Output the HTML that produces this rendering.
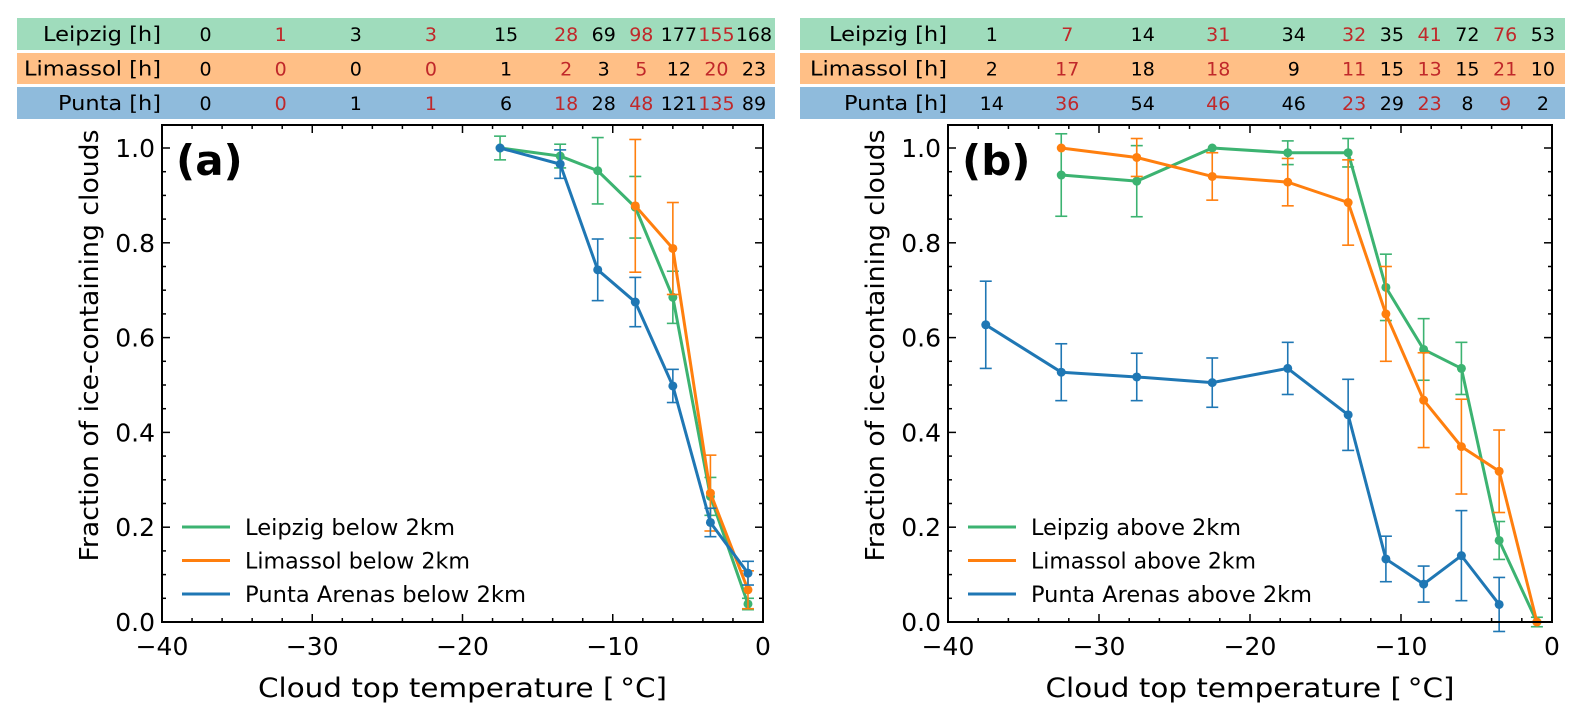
<!DOCTYPE html>
<html><head><meta charset="utf-8">
<style>
html,body{margin:0;padding:0;background:#fff;}
svg{display:block;font-family:"DejaVu Sans","Liberation Sans",sans-serif;}
</style></head>
<body>
<svg id="chart" width="1572" height="722" viewBox="0 0 1572 722" xmlns="http://www.w3.org/2000/svg"></svg>
<script>
// ---- data ----
const tableTemps = [-37.5,-32.5,-27.5,-22.5,-17.5,-13.5,-11,-8.5,-6,-3.5,-1];
const hoursA_Leipzig = [0,1,3,3,15,28,69,98,177,155,168];
const hoursA_Limassol = [0,0,0,0,1,2,3,5,12,20,23];
const hoursA_Punta = [0,0,1,1,6,18,28,48,121,135,89];
const hoursB_Leipzig = [1,7,14,31,34,32,35,41,72,76,53];
const hoursB_Limassol = [2,17,18,18,9,11,15,13,15,21,10];
const hoursB_Punta = [14,36,54,46,46,23,29,23,8,9,2];

const tempsA_Leipzig = [-17.5,-13.5,-11,-8.5,-6,-3.5,-1];
const fracA_Leipzig = [1.0,0.983,0.952,0.875,0.685,0.265,0.038];
const errA_Leipzig = [0.025,0.025,0.07,0.065,0.055,0.04,0.012];
const tempsA_Limassol = [-8.5,-6,-3.5,-1];
const fracA_Limassol = [0.878,0.788,0.272,0.068];
const errA_Limassol = [0.14,0.097,0.08,0.04];
const tempsA_Punta = [-17.5,-13.5,-11,-8.5,-6,-3.5,-1];
const fracA_Punta = [1.0,0.966,0.743,0.675,0.498,0.21,0.103];
const errA_Punta = [0.0,0.03,0.065,0.052,0.035,0.03,0.025];

const tempsB_Leipzig = [-32.5,-27.5,-22.5,-17.5,-13.5,-11,-8.5,-6,-3.5,-1];
const fracB_Leipzig = [0.943,0.93,1.0,0.99,0.99,0.706,0.575,0.535,0.172,0.0];
const errB_Leipzig = [0.087,0.075,0.0,0.025,0.03,0.07,0.065,0.055,0.04,0.01];
const tempsB_Limassol = [-32.5,-27.5,-22.5,-17.5,-13.5,-11,-8.5,-6,-3.5,-1];
const fracB_Limassol = [1.0,0.98,0.94,0.928,0.885,0.65,0.468,0.37,0.318,0.0];
const errB_Limassol = [0.0,0.04,0.05,0.05,0.09,0.1,0.1,0.1,0.087,0.0];
const tempsB_Punta = [-37.5,-32.5,-27.5,-22.5,-17.5,-13.5,-11,-8.5,-6,-3.5];
const fracB_Punta = [0.627,0.527,0.517,0.505,0.535,0.437,0.133,0.08,0.14,0.037];
const errB_Punta = [0.092,0.06,0.05,0.052,0.055,0.075,0.048,0.038,0.095,0.057];

const xTicks = [-40,-30,-20,-10,0];
const yTicks = [0.0,0.2,0.4,0.6,0.8,1.0];

// ---- drawing ----
const NS = "http://www.w3.org/2000/svg";
const svg = document.getElementById('chart');
function mk(tag, attrs, parent){
  const e = document.createElementNS(NS, tag);
  for (const k in attrs) e.setAttribute(k, attrs[k]);
  (parent||svg).appendChild(e);
  return e;
}
const GREEN="#3cb371", ORANGE="#ff7f0e", BLUE="#1f77b4", RED="#c0282a";

function panel(opt){
  const L=opt.left, R=opt.right, T=125, B=622;
  const xs = v => R + (v/40)*(R-L);
  const ys = v => B - v*474;
  const g = mk('g',{});
  
  

  // table
  const rows = [
    {label:'Leipzig [h]', vals:opt.hours[0], bg:'#9fdcbc', y0:18, y1:50, w:118},
    {label:'Limassol [h]', vals:opt.hours[1], bg:'#ffbf86', y0:53, y1:84, w:137},
    {label:'Punta [h]', vals:opt.hours[2], bg:'#8fbbdc', y0:87, y1:119, w:103}
  ];
  rows.forEach((r,ri)=>{
    const rg = mk('g',{},g);
    
    
    mk('rect',{x:opt.tableLeft,y:r.y0,width:opt.tableRight-opt.tableLeft,height:r.y1-r.y0,fill:r.bg},rg);
    const cy=(r.y0+r.y1)/2+7;
    const lt = mk('text',{x:L-1,y:cy,'text-anchor':'end','font-size':20,fill:'#000',textLength:r.w,lengthAdjust:'spacingAndGlyphs'},rg);
    lt.textContent=r.label;
    tableTemps.forEach((t,i)=>{
      const tx = mk('text',{x:xs(t)+6,y:cy,'text-anchor':'middle','font-size':19,fill:(i%2===1)?RED:'#000'},rg);
      tx.textContent=r.vals[i];
    });
  });

  // ticks
  for(let v=-40; v<=0; v+=2){
    const major = v%10===0, len = major?8:4;
    mk('line',{x1:xs(v),x2:xs(v),y1:B,y2:B-len,stroke:'#000','stroke-width':1.5},g);
    mk('line',{x1:xs(v),x2:xs(v),y1:T,y2:T+len,stroke:'#000','stroke-width':1.5},g);
  }
  for(let k=0;k<=21;k++){
    const v=k*0.05, major=k%4===0, len=major?8:4;
    if(ys(v)<T) continue;
    mk('line',{x1:L,x2:L+len,y1:ys(v),y2:ys(v),stroke:'#000','stroke-width':1.5},g);
    mk('line',{x1:R,x2:R-len,y1:ys(v),y2:ys(v),stroke:'#000','stroke-width':1.5},g);
  }
  xTicks.forEach(v=>{
    const t=mk('text',{x:xs(v),y:B+33,'text-anchor':'middle','font-size':25},g);
    
    
    t.textContent = v<0 ? '\u2212'+Math.abs(v) : String(v);
  });
  yTicks.forEach(v=>{
    const t=mk('text',{x:L-7,y:ys(v)+9,'text-anchor':'end','font-size':25},g);
    
    
    t.textContent = v.toFixed(1);
  });
  const xl = mk('text',{x:(L+R)/2,y:697,'text-anchor':'middle','font-size':27,textLength:409,lengthAdjust:'spacingAndGlyphs'},g);
  
  
  xl.textContent='Cloud top temperature [\u2009\u00B0C]';
  const yl = mk('text',{x:0,y:0,'text-anchor':'middle','font-size':26,textLength:432,lengthAdjust:'spacingAndGlyphs',transform:`translate(${L-64},${(T+B)/2-28}) rotate(-90)`},g);
  
  
  yl.textContent='Fraction of ice-containing clouds';
  const pl = mk('text',{x:L+14,y:175,'font-size':42,'font-weight':'bold'},g);
  
  
  pl.textContent=opt.letter;

  // series
  opt.series.forEach(s=>{
    const sg = mk('g',{},g);
    
    
    s.t.forEach((t,i)=>{
      const x=xs(t), y1=ys(s.v[i]-s.e[i]), y2=ys(s.v[i]+s.e[i]);
      if(s.e[i]>0){
        mk('line',{x1:x,x2:x,y1:y1,y2:y2,stroke:s.c,'stroke-width':1.6},sg);
        mk('line',{x1:x-6,x2:x+6,y1:y1,y2:y1,stroke:s.c,'stroke-width':1.6},sg);
        mk('line',{x1:x-6,x2:x+6,y1:y2,y2:y2,stroke:s.c,'stroke-width':1.6},sg);
      }
    });
    mk('polyline',{points:s.t.map((t,i)=>xs(t)+','+ys(s.v[i])).join(' '),fill:'none',stroke:s.c,'stroke-width':3,'stroke-linejoin':'round'},sg);
    s.t.forEach((t,i)=>{
      const c=mk('circle',{cx:xs(t),cy:ys(s.v[i]),r:4.5,fill:s.c},sg);
      
      
    });
  });

  // legend
  opt.series.forEach((s,i)=>{
    const ly = 527 + i*33.5;
    const lg = mk('g',{},g);
    
    
    mk('line',{x1:L+20,x2:L+68,y1:ly,y2:ly,stroke:s.c,'stroke-width':3},lg);
    const t=mk('text',{x:L+83,y:ly+8,'font-size':22,textLength:s.w,lengthAdjust:'spacingAndGlyphs'},lg);
    t.textContent=s.label;
  });

  mk('rect',{x:L,y:T,width:R-L,height:B-T,fill:'none',stroke:'#000','stroke-width':2},g);
}

panel({name:'panel-a-below-2km', letter:'(a)', left:162, right:763, tableLeft:17, tableRight:775,
  hours:[hoursA_Leipzig,hoursA_Limassol,hoursA_Punta],
  series:[
    {name:'series-leipzig-below',label:'Leipzig below 2km',c:GREEN,t:tempsA_Leipzig,v:fracA_Leipzig,e:errA_Leipzig,w:210},
    {name:'series-limassol-below',label:'Limassol below 2km',c:ORANGE,t:tempsA_Limassol,v:fracA_Limassol,e:errA_Limassol,w:225},
    {name:'series-punta-below',label:'Punta Arenas below 2km',c:BLUE,t:tempsA_Punta,v:fracA_Punta,e:errA_Punta,w:281}
  ]});
panel({name:'panel-b-above-2km', letter:'(b)', left:948, right:1552, tableLeft:800, tableRight:1565,
  hours:[hoursB_Leipzig,hoursB_Limassol,hoursB_Punta],
  series:[
    {name:'series-leipzig-above',label:'Leipzig above 2km',c:GREEN,t:tempsB_Leipzig,v:fracB_Leipzig,e:errB_Leipzig,w:210},
    {name:'series-limassol-above',label:'Limassol above 2km',c:ORANGE,t:tempsB_Limassol,v:fracB_Limassol,e:errB_Limassol,w:225},
    {name:'series-punta-above',label:'Punta Arenas above 2km',c:BLUE,t:tempsB_Punta,v:fracB_Punta,e:errB_Punta,w:281}
  ]});
</script>
</body></html>
